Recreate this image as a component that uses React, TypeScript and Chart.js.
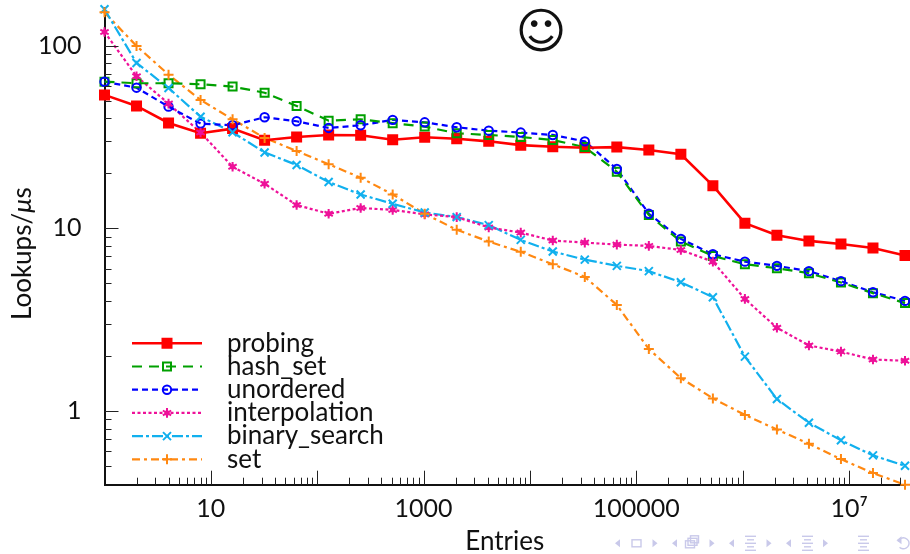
import React, { useEffect, useRef } from "react";
import { Chart, registerables } from "chart.js";

Chart.register(...registerables);

const entries = [1, 2, 4, 8, 16, 32, 64, 128, 256, 512, 1024, 2048, 4096, 8192, 16384, 32768, 65536, 131072, 262144, 524288, 1048576, 2097152, 4194304, 8388608, 16777216, 33554432];
const probing = [53.7, 46.7, 37.7, 33.1, 35.1, 30.3, 31.6, 32.4, 32.3, 30.5, 31.5, 30.9, 29.9, 28.5, 27.9, 27.6, 27.8, 26.8, 25.4, 17.1, 10.65, 9.16, 8.52, 8.2, 7.8, 7.08];
const hashSet = [63.4, 62.2, 62.2, 61.4, 59.6, 55.2, 46.7, 38.8, 39.5, 37.6, 36, 33.1, 32.4, 31.6, 30.4, 27.8, 20.4, 11.8, 8.45, 7.05, 6.35, 6.04, 5.67, 5.04, 4.41, 3.89];
const unordered = [63.4, 58.8, 46.3, 37.4, 36.6, 40.5, 38.5, 35.4, 36.6, 39.2, 38, 35.7, 34.2, 33.4, 32.4, 29.9, 21.1, 12, 8.74, 7.2, 6.56, 6.22, 5.82, 5.13, 4.46, 4.0];
const interpolation = [118.7, 67.9, 48.1, 33.4, 21.7, 17.5, 13.4, 12, 12.9, 12.6, 11.9, 11.5, 10.1, 9.46, 8.56, 8.34, 8.13, 8, 7.6, 6.56, 4.1, 2.85, 2.28, 2.11, 1.91, 1.88];
const binarySearch = [158, 80.3, 58.6, 40.8, 33.5, 26, 22.2, 17.9, 15.3, 13.6, 12.2, 11.5, 10.4, 8.63, 7.45, 6.73, 6.22, 5.82, 5.06, 4.19, 1.98, 1.16, 0.86, 0.69, 0.57, 0.5];
const setValues = [152, 99.5, 69.3, 50.4, 39.5, 31.2, 26.5, 22.4, 18.9, 15.3, 12, 9.8, 8.45, 7.42, 6.35, 5.41, 3.8, 2.18, 1.51, 1.17, 0.95, 0.79, 0.66, 0.544, 0.456, 0.394];
const xTickLabels: Record<number, string> = { 10: "10", 1000: "1000", 100000: "100000", 10000000: "10⁷" };
const yTickLabels: Record<number, string> = { 1: "1", 10: "10", 100: "100" };

const FONT = "Lato";
const seriesDefs = [
  { label: "probing", data: probing, color: "#ff0000", dash: [], marker: "rect", size: 4.5, width: 2.6, fill: true },
  { label: "hash_set", data: hashSet, color: "#00a000", dash: [10, 7], marker: "rect", size: 4, width: 2.2, fill: false },
  { label: "unordered", data: unordered, color: "#0000ff", dash: [6, 4], marker: "circle", size: 4.2, width: 2.2, fill: false },
  { label: "interpolation", data: interpolation, color: "#ee1199", dash: [3, 2.5], marker: "star", size: 4.8, width: 2.2, fill: false },
  { label: "binary_search", data: binarySearch, color: "#11b0ee", dash: [11, 3, 3, 3], marker: "cross", size: 4, width: 2.2, fill: false },
  { label: "set", data: setValues, color: "#ff8811", dash: [8, 4, 3, 4], marker: "plus", size: 5, width: 2.2, fill: false },
];

function drawMarker(ctx: CanvasRenderingContext2D, kind: string, x: number, y: number, r: number, color: string, fill: boolean) {
  ctx.save();
  ctx.setLineDash([]);
  ctx.strokeStyle = color;
  ctx.fillStyle = color;
  ctx.lineWidth = 2;
  ctx.beginPath();
  if (kind === "rect") {
    ctx.rect(x - r, y - r, 2 * r, 2 * r);
    if (fill) ctx.fill();
    ctx.stroke();
  } else if (kind === "circle") {
    ctx.arc(x, y, r, 0, Math.PI * 2);
    ctx.stroke();
  } else if (kind === "cross") {
    ctx.moveTo(x - r, y - r); ctx.lineTo(x + r, y + r);
    ctx.moveTo(x - r, y + r); ctx.lineTo(x + r, y - r);
    ctx.stroke();
  } else if (kind === "plus") {
    ctx.moveTo(x - r, y); ctx.lineTo(x + r, y);
    ctx.moveTo(x, y - r); ctx.lineTo(x, y + r);
    ctx.stroke();
  } else if (kind === "star") {
    for (let i = 0; i < 3; i++) {
      const a = Math.PI / 2 + (i * Math.PI) / 3;
      ctx.moveTo(x + r * Math.cos(a), y + r * Math.sin(a));
      ctx.lineTo(x - r * Math.cos(a), y - r * Math.sin(a));
    }
    ctx.stroke();
    ctx.beginPath();
    ctx.arc(x, y, r * 0.55, 0, Math.PI * 2);
    ctx.fill();
  }
  ctx.restore();
}

const markers = {
  id: "markers",
  afterDatasetsDraw(chart: any) {
    const ctx = chart.ctx;
    chart.data.datasets.forEach((ds: any, i: number) => {
      const def = seriesDefs[i];
      chart.getDatasetMeta(i).data.forEach((p: any) => drawMarker(ctx, def.marker, p.x, p.y, def.size, def.color, def.fill));
    });
  },
};

const isDecade = (v: number) => Math.abs(Math.log10(v) - Math.round(Math.log10(v))) < 1e-6;
const isWhole = (v: number) => {
  const m = v / Math.pow(10, Math.floor(Math.log10(v) + 1e-9));
  return Math.abs(m - Math.round(m)) < 1e-6;
};

const inwardTicks = {
  id: "inwardTicks",
  afterDraw(chart: any) {
    const { ctx, chartArea: a, scales } = chart;
    ctx.save();
    ctx.strokeStyle = "#222222";
    ctx.lineWidth = 1;
    ctx.beginPath();
    scales.x.ticks.forEach((t: any) => {
      if (!isWhole(t.value) || t.value <= 1) return;
      const px = Math.round(scales.x.getPixelForValue(t.value)) + 0.5;
      if (px > a.right) return;
      ctx.moveTo(px, a.bottom);
      ctx.lineTo(px, a.bottom - (isDecade(t.value) ? 14 : 7));
    });
    scales.y.ticks.forEach((t: any) => {
      if (!isWhole(t.value)) return;
      const py = Math.round(scales.y.getPixelForValue(t.value)) + 0.5;
      ctx.moveTo(a.left, py);
      ctx.lineTo(a.left + (isDecade(t.value) ? 14 : 7), py);
    });
    ctx.stroke();
    ctx.restore();
  },
};

function navTriangle(ctx: CanvasRenderingContext2D, x: number, y: number, dir: number) {
  ctx.beginPath();
  ctx.moveTo(x - dir * 2.5, y - 4);
  ctx.lineTo(x + dir * 2.5, y);
  ctx.lineTo(x - dir * 2.5, y + 4);
  ctx.closePath();
  ctx.fill();
}

function navLines(ctx: CanvasRenderingContext2D, x: number, y: number) {
  [[-7, 11], [-3.5, 7], [0, 11], [3.5, 7], [7, 11]].forEach(([dy, w]) => {
    ctx.beginPath();
    ctx.moveTo(x - w / 2, y + dy);
    ctx.lineTo(x + w / 2, y + dy);
    ctx.stroke();
  });
}

const navColor = "#c9c9ea";
const overlay = {
  id: "overlay",
  afterDraw(chart: any) {
    const ctx = chart.ctx;
    ctx.save();
    seriesDefs.forEach((def, i) => {
      const y = 343.3 + i * 23.2;
      ctx.strokeStyle = def.color;
      ctx.lineWidth = def.width;
      ctx.setLineDash(def.dash);
      ctx.beginPath();
      ctx.moveTo(132, y);
      ctx.lineTo(202, y);
      ctx.stroke();
      ctx.setLineDash([]);
      drawMarker(ctx, def.marker, 167, y, def.size, def.color, def.fill);
      ctx.fillStyle = "#111111";
      ctx.font = `26px ${FONT}`;
      ctx.textBaseline = "middle";
      ctx.textAlign = "left";
      ctx.fillText(def.label, 227, y);
    });

    // y axis title, with the italic mu of the original
    ctx.save();
    ctx.translate(31, 320);
    ctx.rotate(-Math.PI / 2);
    ctx.textBaseline = "alphabetic";
    ctx.textAlign = "left";
    ctx.fillStyle = "#111111";
    ctx.font = `26px ${FONT}`;
    ctx.fillText("Lookups/", 0, 0);
    let w = ctx.measureText("Lookups/").width;
    ctx.font = `italic 26px ${FONT}`;
    ctx.fillText("μ", w, 0);
    w += ctx.measureText("μ").width;
    ctx.font = `26px ${FONT}`;
    ctx.fillText("s", w, 0);
    ctx.restore();

    ctx.fillStyle = "#111111";
    ctx.font = "49px 'DejaVu Sans'";
    ctx.textAlign = "center";
    ctx.textBaseline = "middle";
    ctx.fillText("☺", 541, 35);

    // presentation navigation symbols
    const ny = 543.3;
    ctx.fillStyle = navColor;
    ctx.strokeStyle = navColor;
    ctx.lineWidth = 1.4;
    [617.5, 674.5, 731.5, 788.5].forEach((x) => navTriangle(ctx, x, ny, -1));
    [655, 712, 769, 825.5].forEach((x) => navTriangle(ctx, x, ny, 1));
    ctx.strokeRect(632, ny - 3.5, 9, 7);
    ctx.strokeRect(685.5, ny - 2.5, 9, 7);
    ctx.strokeRect(688, ny - 5, 9, 7);
    ctx.strokeRect(690.5, ny - 7.5, 8, 7);
    navLines(ctx, 750.5, ny);
    navLines(ctx, 807.5, ny);
    navLines(ctx, 863.5, ny);
    ctx.beginPath();
    ctx.arc(903.5, ny, 5.5, Math.PI * 1.1, Math.PI * 0.75);
    ctx.stroke();
    navTriangle(ctx, 899, ny - 3, -1);
    ctx.restore();
  },
};

export default function App() {
  const ref = useRef<HTMLCanvasElement>(null);
  useEffect(() => {
    const chart = new Chart(ref.current as HTMLCanvasElement, {
      type: "line",
      data: {
        labels: entries,
        datasets: seriesDefs.map((d) => ({
          label: d.label,
          data: entries.map((x, i) => ({ x, y: d.data[i] })),
          borderColor: d.color,
          backgroundColor: d.color,
          borderWidth: d.width,
          borderDash: d.dash,
          pointRadius: 0,
          tension: 0,
          clip: false,
        })),
      } as any,
      options: {
        responsive: false,
        animation: false,
        layout: { padding: { top: 8.3, right: 5, left: 0, bottom: 0 } },
        plugins: { legend: { display: false }, tooltip: { enabled: false } },
        scales: {
          x: {
            type: "logarithmic",
            min: 1,
            max: 33554432,
            afterFit: (s: any) => { s.height = 69.3; s.paddingLeft = 0; s.paddingRight = 0; },
            grid: { display: false },
            border: { display: true, color: "#111111", width: 2 },
            title: { display: true, text: "Entries", font: { family: FONT, size: 26 }, color: "#111111", padding: { top: 0, bottom: -3 } },
            ticks: {
              autoSkip: false,
              maxRotation: 0,
              color: "#111111",
              font: { family: FONT, size: 25 },
              padding: 1,
              callback: (v: any) => xTickLabels[Math.round(Number(v))] ?? "",
            },
          },
          y: {
            type: "logarithmic",
            min: 0.394,
            max: 160,
            afterFit: (s: any) => { s.width = 104.5; s.paddingTop = 0; s.paddingBottom = 0; },
            grid: { display: false },
            border: { display: true, color: "#111111", width: 2 },
            ticks: {
              autoSkip: false,
              color: "#111111",
              font: { family: FONT, size: 25 },
              padding: 15,
              callback: (v: any) => yTickLabels[Math.round(Number(v) * 1000) / 1000] ?? "",
            },
          },
        },
      },
      plugins: [markers, inwardTicks, overlay],
    } as any);
    return () => chart.destroy();
  }, []);
  return (
    <div style={{ position: "absolute", left: 0, top: 0, width: 910, height: 554, background: "#fff" }}>
      <canvas ref={ref} width={910} height={554} style={{ display: "block" }} />
    </div>
  );
}
